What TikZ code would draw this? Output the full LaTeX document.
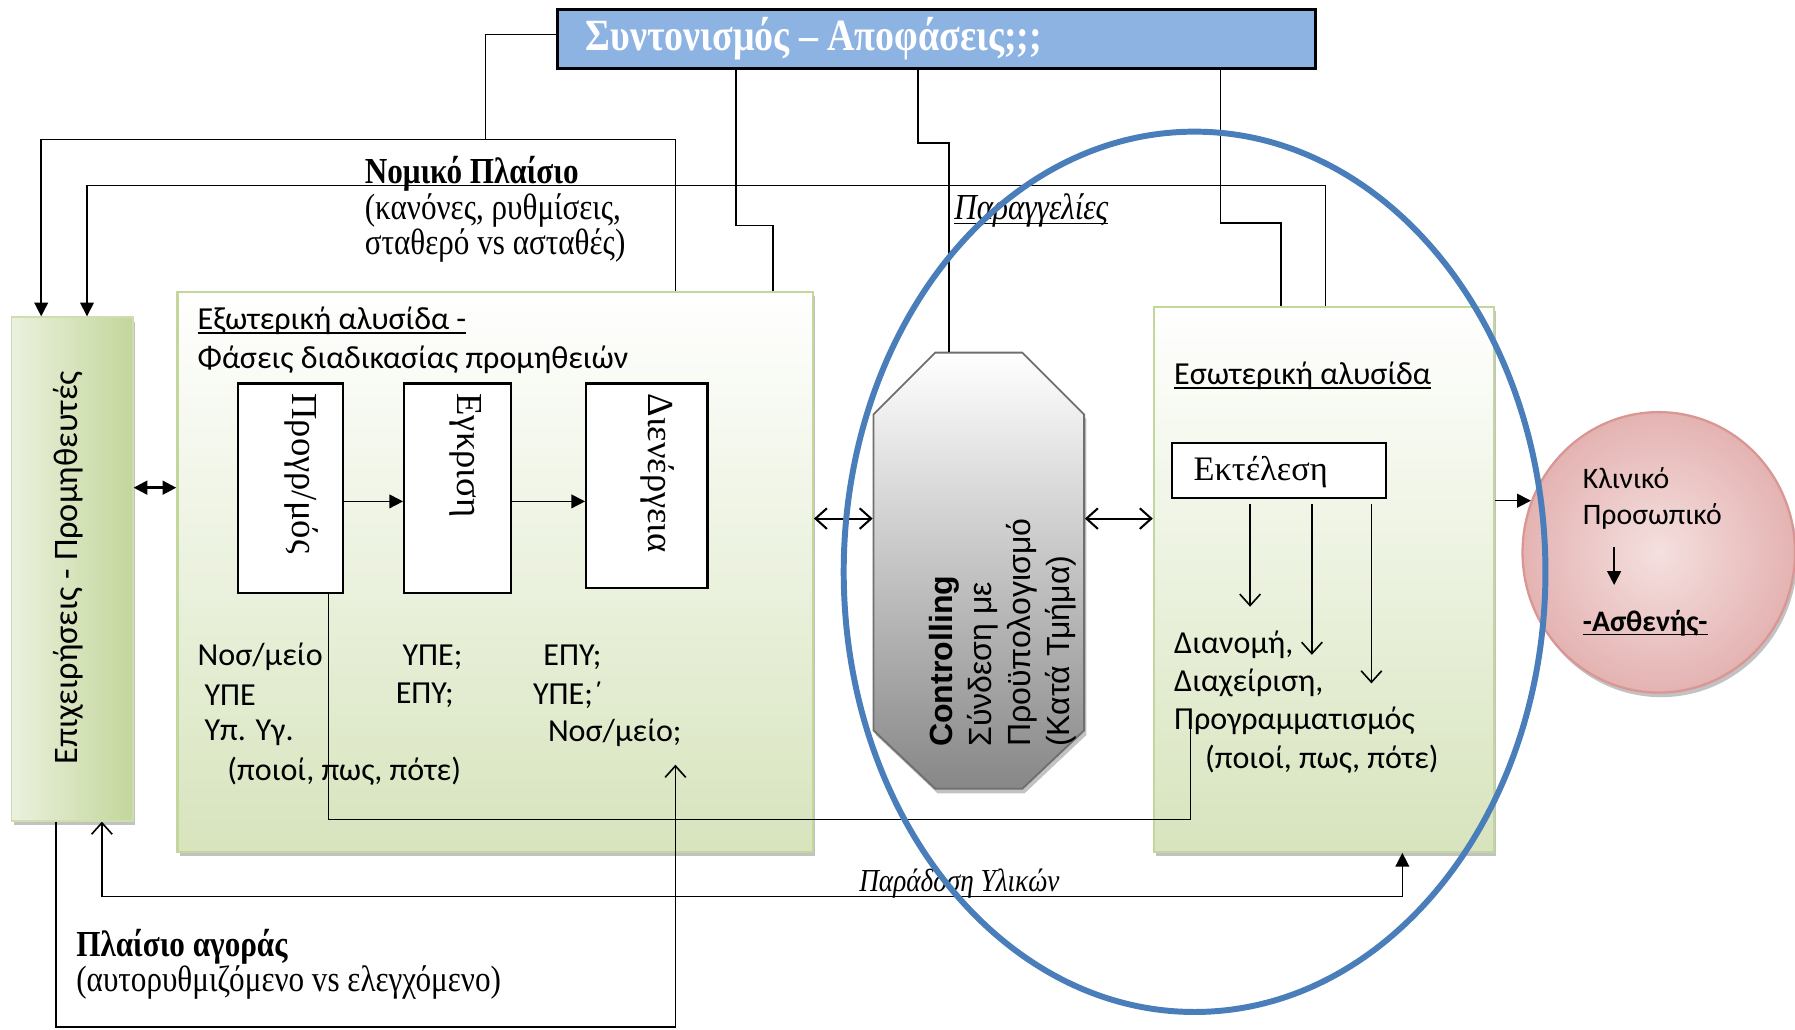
\documentclass[tikz,border=0pt]{standalone}
\usepackage{fontspec}
\setmainfont{Carlito}
\newfontfamily\condserif[FakeStretch=0.85]{Liberation Serif}
\newfontfamily\plainserif{Liberation Serif}
\newfontfamily\arialsans{Liberation Sans}
\newcommand{\ulin}[1]{\setbox0\hbox{#1}\leavevmode\rlap{\rule[-1.9pt]{\wd0}{0.6pt}}\box0}
\usetikzlibrary{arrows.meta,fit,shadows,shapes.geometric}
\definecolor{boxblue}{HTML}{8DB3E2}
\definecolor{chaingreen}{HTML}{D7E4BD}
\definecolor{chainedge}{HTML}{C3D69B}
\definecolor{supplight}{HTML}{EBF1DE}
\definecolor{ovalblue}{HTML}{4A7EBB}
\definecolor{pinkedge}{HTML}{D99694}
\definecolor{pinkin}{HTML}{F4E0DF}
\definecolor{pinkout}{HTML}{E4B3B2}
\definecolor{ctrledge}{HTML}{6F6F6F}
\definecolor{ctrlgray}{HTML}{878787}
\begin{document}
\begin{tikzpicture}[x=0.5pt, y=-0.5pt, line width=0.7pt,
		fa/.style={-{Triangle[length=6pt,width=6pt]}},
		oa/.style={-{Straight Barb[length=5pt,width=9pt]}},
		txt/.style={anchor=west, inner sep=0pt, font=\fontsize{14}{16.75}\selectfont},
		sertxt/.style={anchor=west, inner sep=0pt, align=left, font=\condserif\fontsize{16}{15.5}\selectfont},
		softshadow/.style={drop shadow={shadow xshift=1pt, shadow yshift=-2pt, fill=black!40, opacity=.6}},
		chainbox/.style={draw=chainedge, line width=1pt, top color=white, bottom color=chaingreen, inner sep=0pt, softshadow},
		phase/.style={draw, fill=white, line width=0.9pt, inner sep=0pt},
		phasetxt/.style={rotate=-90, anchor=west, inner sep=0pt, font=\plainserif\fontsize{16}{18}\selectfont}]
	\useasboundingbox (0,0) rectangle (1568,899);
	% boxes
	\node[fit={(487,8) (1149,60)}, draw, line width=1.2pt, fill=boxblue, inner sep=0pt] (top) {};
	\node[anchor=west, inner sep=0pt, text=white, font=\condserif\bfseries\fontsize{19.5}{21}\selectfont] (toptxt) at (511,34) {Συντονισμός – Αποφάσεις;;;};
	\node[fit={(10,277) (116,717)}, draw=chainedge!80, left color=supplight, right color=chainedge, inner sep=0pt, softshadow] (supp) {};
	\node[rotate=90, inner sep=0pt, font=\fontsize{15}{17}\selectfont] (supptxt) at (60,496) {Επιχειρήσεις - Προμηθευτές};
	\node[fit={(155,255) (710,744)}, chainbox] (ext) {};
	\node[fit={(1008,268) (1305,744)}, chainbox] (int) {};
	\fill[black!40, opacity=.6] (819,312) -- (895,312) -- (949,366) -- (949,642) -- (895,693) -- (819,693) -- (765,642) -- (765,366) -- cycle;
	\draw[ctrledge, line width=0.8pt, top color=white, bottom color=ctrlgray] (817,308) -- (893,308) -- (947,362) -- (947,638) -- (893,689) -- (817,689) -- (763,638) -- (763,362) -- cycle;
	\node[fit={(763,308) (947,689)}, inner sep=0pt] (ctrl) {};
	\node[ellipse, draw=pinkedge, line width=1pt, inner color=pinkin, outer color=pinkout, minimum width=119pt, minimum height=122.5pt, softshadow] (clin) at (1449,482.5) {};

	% external chain
	\node[txt] (exttitle) at (172,280) {\ulin{Εξωτερική αλυσίδα -}};
	\node[txt] (extsub) at (172,314) {Φάσεις διαδικασίας προμηθειών};
	\node[fit={(208,335) (300,518)}, phase] (prog) {};
	\node[fit={(353,335) (446,518)}, phase] (egk) {};
	\node[fit={(512,335) (618,514)}, phase] (dien) {};
	\node[phasetxt] (progtxt) at (263,343) {Προγρ/μός};
	\node[phasetxt] (egktxt) at (407,343) {Εγκριση};
	\node[phasetxt] (dientxt) at (574,343) {Διενέργεια};
	\coordinate (r) at (0,438);
	\draw[fa] (prog.east |- r) -- (egk.west |- r);
	\draw[fa] (egk.east |- r) -- (dien.west |- r);
	\node[txt] (c1a) at (172,574) {Νοσ/μείο};
	\node[txt] (c1b) at (178,607) {ΥΠΕ};
	\node[txt] (c1c) at (178,640) {Υπ. Υγ.};
	\node[txt] (c1d) at (198,674) {(ποιοί, πως, πότε)};
	\node[txt] (c2a) at (351,574) {ΥΠΕ;};
	\node[txt] (c2b) at (345,607) {ΕΠΥ;};
	\node[txt] (c3a) at (474,574) {ΕΠΥ;};
	\node[txt] (c3b) at (465,607) {ΥΠΕ;΄};
	\node[txt] (c3c) at (478,640) {Νοσ/μείο;};

	% controlling
	\node[rotate=90, anchor=west, align=left, inner sep=0pt, font=\arialsans\fontsize{14}{17}\selectfont] (ctrltxt) at (876,653) {\textbf{Controlling}\\Σύνδεση με\\Προϋπολογισμό\\(Κατά Τμήμα)};

	% internal chain
	\node[txt] (inttitle) at (1025,328) {\ulin{Εσωτερική αλυσίδα}};
	\node[fit={(1024,387) (1211,435)}, phase] (exe) {};
	\node[anchor=west, inner sep=0pt, font=\plainserif\fontsize{15}{18}\selectfont] (exetxt) at (1042,412) {Εκτέλεση};
	\node[txt, align=left] (dist) at (1025,596.5) {Διανομή,\\Διαχείριση,\\Προγραμματισμός};
	\node[txt] (distb) at (1052,663) {(ποιοί, πως, πότε)};
	\coordinate (e1) at (1092,530);
	\coordinate (e2) at (1146,572);
	\coordinate (e3) at (1198,597);
	\foreach \e in {e1,e2,e3}
		\draw[oa] ([yshift=-2pt]exe.south -| \e) -- (\e);

	% clinical staff
	\node[txt, align=left, font=\fontsize{13}{15.5}\selectfont] (staff) at (1382,435.5) {Κλινικό\\Προσωπικό};
	\node[txt, font=\bfseries\fontsize{13}{15.5}\selectfont] (pat) at (1382,544) {\ulin{-Ασθενής-}};
	\coordinate (k1) at (1410,478);
	\coordinate (k2) at (1410,511);
	\draw[fa] (k1) -- (k2);
	\draw[fa] (int.east |- clin.158) -- (clin.158);

	% two-way links
	\coordinate (s) at (0,426);
	\coordinate (m) at (0,453);
	\draw[{Triangle[length=6pt,width=6pt]}-{Triangle[length=6pt,width=6pt]}, line width=1.1pt] (supp.east |- s) -- (ext.west |- s);
	\draw[{Straight Barb[length=5pt,width=9pt]}-{Straight Barb[length=5pt,width=9pt]}, line width=0.9pt] (ext.east |- m) -- (ctrl.west |- m);
	\draw[{Straight Barb[length=5pt,width=9pt]}-{Straight Barb[length=5pt,width=9pt]}, line width=0.9pt] (ctrl.east |- m) -- (int.west |- m);

	% links from the top
	\coordinate (a1) at (424,122);
	\coordinate (a2) at (590,122);
	\coordinate (a3) at (36,122);
	\draw ([yshift=2pt]top.west) -| (a1);
	\draw[fa] (ext.north -| a2) |- (a3) -- (a3 |- supp.north);
	\coordinate (b1) at (1158,162);
	\coordinate (b2) at (76,162);
	\draw[fa] (int.north -| b1) |- (b2) -- (b2 |- supp.north);
	\coordinate (c1) at (643,197);
	\coordinate (c2) at (675,197);
	\draw (top.south -| c1) -- (c1) -- (c2) -- (c2 |- ext.north);
	\coordinate (d1) at (802,125);
	\coordinate (d2) at (829,125);
	\draw (top.south -| d1) -- (d1) -- (d2) -- (d2 |- ctrl.north);
	\coordinate (f1) at (1066,195);
	\coordinate (f2) at (1119,195);
	\draw (top.south -| f1) -- (f1) -- (f2) -- (f2 |- int.north);
	\node[sertxt] (legal) at (318,183) {\textbf{Νομικό Πλαίσιο}\\(κανόνες, ρυθμίσεις,\\σταθερό vs ασταθές)};
	\node[sertxt, font=\condserif\itshape\fontsize{16}{15.5}\selectfont] (orders) at (833,184) {\ulin{Παραγγελίες}};

	% links below
	\coordinate (g1) at (287,716);
	\coordinate (g2) at (1040,716);
	\coordinate (g3) at (1040,625);
	\draw (prog.south -| g1) -- (g1) -- (g2) -- (g3);
	\coordinate (h1) at (49,897);
	\coordinate (h2) at (590,897);
	\coordinate (h3) at (590,668);
	\draw[oa] (supp.south -| h1) -- (h1) -- (h2) -- (h3);
	\coordinate (p1) at (89,783);
	\coordinate (p2) at (1225,783);
	\draw[{Straight Barb[length=5pt,width=9pt]}-{Triangle[length=6pt,width=6pt]}] (supp.south -| p1) -- (p1) -- (p2) -- (int.south -| p2);
	\node[inner sep=0pt, font=\condserif\itshape\fontsize{14}{15.5}\selectfont] (delivery) at (838,772) {Παράδοση Υλικών};
	\node[sertxt] (market) at (66,842.5) {\textbf{Πλαίσιο αγοράς}\\(αυτορυθμιζόμενο vs ελεγχόμενο)};

	% highlighted area
	\draw[ovalblue, line width=2.6pt] (1043.5,499.5) ellipse [x radius=153.25pt, y radius=192.25pt];
\end{tikzpicture}
\end{document}
